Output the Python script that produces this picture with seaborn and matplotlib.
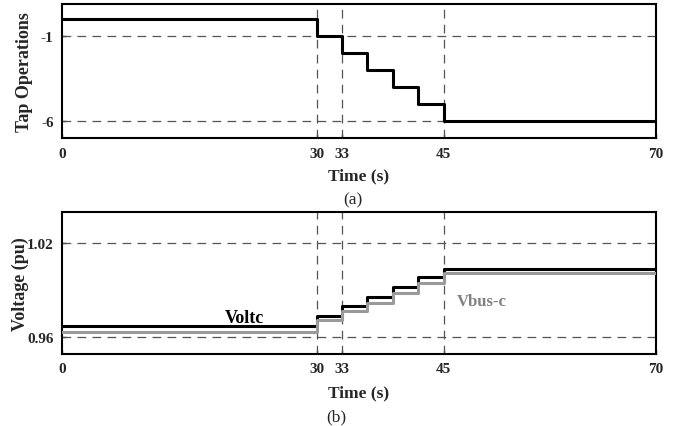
import numpy as np
import pandas as pd
import matplotlib
matplotlib.use('Agg')
import matplotlib.pyplot as plt
import seaborn as sns

# data
time_s = [0, 30, 33, 36, 39, 42, 45, 70]
tap_ops = [0, -1, -2, -3, -4, -5, -6, -6]
voltc = [0.9674, 0.9738, 0.9798, 0.9859, 0.9919, 0.9983, 1.0038, 1.0038]
vbus_c = [0.9636, 0.9711, 0.9769, 0.9821, 0.9881, 0.9945, 1.0009, 1.0009]
x_ticks = [0, 30, 33, 45, 70]
tap_ticks = [-1, -6]
volt_ticks = [0.96, 1.02]

sns.set_style('white')
plt.rcParams['font.family'] = ['Liberation Serif', 'DejaVu Serif']
plt.rcParams['axes.unicode_minus'] = False

fig = plt.figure(figsize=(6.79, 4.27), dpi=100)
ax1 = fig.add_axes([0.0913, 0.674, 0.8748, 0.314])
ax2 = fig.add_axes([0.0913, 0.1686, 0.8748, 0.3318])

grid_kw = dict(color='#555555', lw=0.9, ls=(0, (7, 5)), zorder=1)


def style_axes(ax, yticks, ylabel, xlabel_y, ypad):
    ax.set_xlim(0, 70)
    ax.set_xticks(x_ticks)
    ax.set_yticks(yticks)
    for xv in [30, 33, 45]:
        ax.axvline(xv, **grid_kw)
    for yv in yticks:
        ax.axhline(yv, **grid_kw)
    ax.tick_params(axis='both', direction='in', length=3, width=1, labelsize=11, pad=6,
                   bottom=True, left=True)
    for lab in ax.get_xticklabels() + ax.get_yticklabels():
        lab.set_fontweight('bold')
    for sp in ax.spines.values():
        sp.set_color('black')
        sp.set_linewidth(1.5)
    ax.set_ylabel(ylabel, fontsize=13, fontweight='bold', labelpad=ypad)
    ax.set_xlabel('Time (s)', fontsize=12.5, fontweight='bold')
    ax.xaxis.set_label_coords(0.5, xlabel_y)
    ax.grid(False)


# (a) tap operations
sns.lineplot(x=time_s, y=tap_ops, ax=ax1, color='black', lw=2.2,
             drawstyle='steps-post', zorder=3)
ax1.set_ylim(-7.02, 0.88)
style_axes(ax1, tap_ticks, 'Tap Operations', -0.22, 5.5)
fig.text(0.5195, 1 - 200 / 427, '(a)', ha='center', va='center', fontsize=12.5)

# (b) voltages
df = pd.DataFrame({'t': time_s * 2,
                   'v': voltc + vbus_c,
                   'series': ['Voltc'] * len(time_s) + ['Vbus-c'] * len(time_s)})
sns.lineplot(data=df, x='t', y='v', hue='series', ax=ax2,
             palette={'Voltc': 'black', 'Vbus-c': '#9a9a9a'},
             lw=2.2, drawstyle='steps-post', legend=False, zorder=3)
ax2.set_ylim(0.9493, 1.0398)
style_axes(ax2, volt_ticks, 'Voltage (pu)', -0.215, -1.5)
ax2.text(21.5, 0.9725, 'Voltc', ha='center', va='center', fontsize=13,
         fontweight='bold', color='black')
ax2.text(49.5, 0.9832, 'Vbus-c', ha='center', va='center', fontsize=12,
         fontweight='bold', color='#808080')
fig.text(0.496, 1 - 417 / 427, '(b)', ha='center', va='center', fontsize=12.5)

fig.savefig('out.png', dpi=100)
